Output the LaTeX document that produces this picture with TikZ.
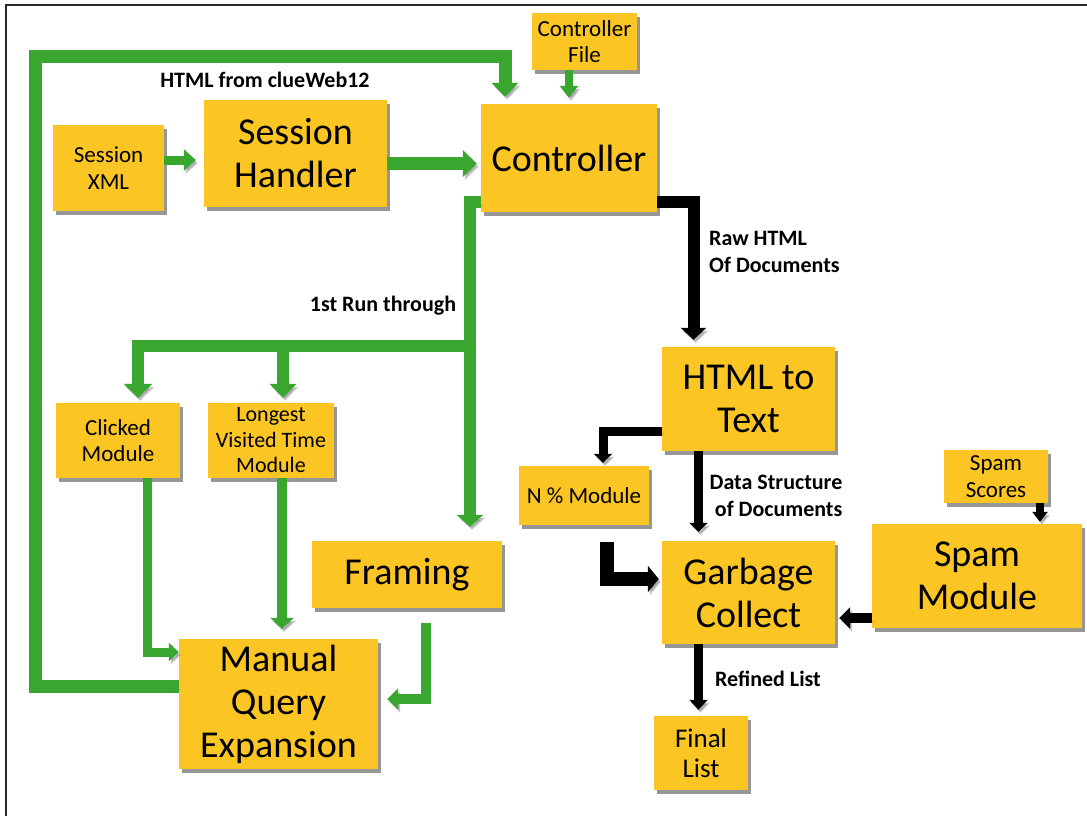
\documentclass[tikz,border=0pt]{standalone}
\usepackage{fontspec}
\setmainfont{Carlito}
\usetikzlibrary{arrows.meta,shadows,calc}
\definecolor{boxy}{HTML}{FBC623}
\definecolor{grn}{HTML}{38A62F}
\begin{document}
\begin{tikzpicture}[x=1pt,y=-1pt,
  box/.style={fill=boxy, inner sep=0pt, align=center,
    drop shadow={shadow xshift=3pt, shadow yshift=-4pt, opacity=0.55, fill=black!75}},
  big/.style={font=\fontsize{38}{43}\selectfont},
  small/.style={font=\fontsize{23}{26.5}\selectfont},
  lbl/.style={font=\bfseries\fontsize{22}{26.5}\selectfont, inner sep=0pt},
  ash/.style={preaction={draw=black!55, opacity=0.4, transform canvas={shift={(2pt,-3pt)}}}},
  gline/.style={draw=grn, line width=#1, ash},
  kline/.style={draw=black, line width=#1, ash},
]
\useasboundingbox (0,0) rectangle (1087,816);
\draw[line width=1.5pt, black!85] (6,816) -- (6,5) -- (1087,5);

% nodes
\node[box, small, minimum width=105pt, minimum height=57pt] (cf) at (584.5,41.5) {Controller\\File};
\node[box, small, minimum width=111pt, minimum height=86pt] (sx) at (108.5,168) {Session\\XML};
\node[box, big, minimum width=183pt, minimum height=107pt] (sh) at (295.5,153.5) {Session\\Handler};
\node[box, big, minimum width=176pt, minimum height=108pt] (ctl) at (569,158) {Controller};
\node[box, big, minimum width=173pt, minimum height=104pt] (htt) at (748.5,399) {HTML to\\Text};
\node[box, small, minimum width=130pt, minimum height=59pt] (np) at (584,495.5) {N \% Module};
\node[box, small, minimum width=124pt, minimum height=75pt] (cm) at (118,440.5) {Clicked\\Module};
\node[box, small, font=\fontsize{22}{25.5}\selectfont, minimum width=126pt, minimum height=75pt] (lv) at (271,440.5) {Longest\\Visited Time\\Module};
\node[box, big, minimum width=190pt, minimum height=67pt] (fr) at (407,574.5) {Framing};
\node[box, big, minimum width=199pt, minimum height=130pt] (mqe) at (278.5,704) {Manual\\Query\\Expansion};
\node[box, big, minimum width=173pt, minimum height=103pt] (gc) at (748.5,592.5) {Garbage\\Collect};
\node[box, small, minimum width=104pt, minimum height=53pt] (ss) at (996,476.5) {Spam\\Scores};
\node[box, big, minimum width=210pt, minimum height=104pt] (sm) at (977,576) {Spam\\Module};
\node[box, font=\fontsize{27}{30}\selectfont, minimum width=94pt, minimum height=74pt] (fl) at (701,753) {Final\\List};

% labels
\node[lbl] (l1) at (265,80) {HTML from clueWeb12};
\node[lbl] (l2) at (383,306) {1st Run through};
\node[lbl, anchor=west, align=left] (l3) at (709,252) {Raw HTML\\Of Documents};
\node[lbl, align=right] (l4) at (776,496) {Data Structure\\of Documents};
\node[lbl] (l5) at (768,679) {Refined List};

% helper coordinates
\coordinate (lp) at (35,57);
\coordinate (br) at (470,346);
\coordinate (frout) at ([xshift=19pt,yshift=-15pt]fr.south);
\coordinate (npout) at ([xshift=23pt,yshift=-17pt]np.south);

% green connectors
\draw[gline=13pt, -{Triangle[width=26pt,length=14pt]}, shorten >=7pt]
  ([yshift=18pt]mqe.west) -| (lp) -| ([xshift=-64pt]ctl.north);
\draw[gline=8pt, -{Triangle[width=18pt,length=12pt]}, shorten >=6pt]
  (ctl.north |- cf.south) -- (ctl.north);
\draw[gline=9pt, -{Triangle[width=21pt,length=12pt]}, shorten >=8pt]
  ([yshift=8pt]sx.east) -- ([yshift=8pt]sx.east -| sh.west);
\draw[gline=13pt, -{Triangle[width=26pt,length=14pt]}, shorten >=4pt]
  ([yshift=-10pt]sh.east) -- ([yshift=-10pt]sh.east -| ctl.west);
\draw[gline=12pt, -{Triangle[width=28pt,length=14pt]}, shorten >=5pt]
  ([yshift=-44pt]ctl.west) -| (br) -| ([xshift=20pt]cm.north);
\draw[gline=12pt, -{Triangle[width=26pt,length=12pt]}, shorten >=14pt]
  (br) -- (br |- fr.north);
\draw[gline=12pt, -{Triangle[width=26pt,length=14pt]}, shorten >=5pt]
  ([xshift=12pt]lv.north |- br) -- ([xshift=12pt]lv.north);
\draw[gline=9pt, -{Triangle[width=18pt,length=10pt]}]
  ([xshift=29pt]cm.south) |- ([yshift=52pt]mqe.west);
\draw[gline=10pt, -{Triangle[width=23pt,length=11pt]}, shorten >=10pt]
  ([xshift=11pt]lv.south) -- ([xshift=11pt]lv.south |- mqe.north);
\draw[gline=10pt, -{Triangle[width=21pt,length=11pt]}, shorten >=9pt]
  (frout) |- ([yshift=5pt]mqe.east);

% black connectors
\draw[kline=12pt, -{Triangle[width=25pt,length=12pt]}, shorten >=7pt]
  ([yshift=-44pt]ctl.east) -| ([xshift=-55pt]htt.north);
\draw[kline=9pt, -{Triangle[width=18pt,length=9pt]}, shorten >=3pt]
  ([yshift=-32pt]htt.west) -| ([xshift=19pt]np.north);
\draw[kline=9pt, -{Triangle[width=18pt,length=9pt]}, shorten >=9pt]
  ([xshift=-50pt]htt.south) -- ([xshift=-50pt]gc.north);
\draw[kline=14pt, -{Triangle[width=26pt,length=11pt]}, shorten >=3pt]
  (npout) |- ([yshift=13.5pt]gc.west);
\draw[kline=8pt, -{Triangle[width=15pt,length=10pt]}, shorten >=2pt]
  ([xshift=44pt]ss.south) -- ([xshift=44pt]ss.south |- sm.north);
\draw[kline=10pt, -{Triangle[width=21pt,length=11pt]}, shorten >=4pt]
  ([yshift=-42pt]sm.west) -- ([yshift=-42pt]sm.west -| gc.east);
\draw[kline=9pt, -{Triangle[width=18pt,length=10pt]}, shorten >=6pt]
  ([xshift=-50pt]gc.south) -- ([xshift=-50pt]gc.south |- fl.north);
\end{tikzpicture}
\end{document}
